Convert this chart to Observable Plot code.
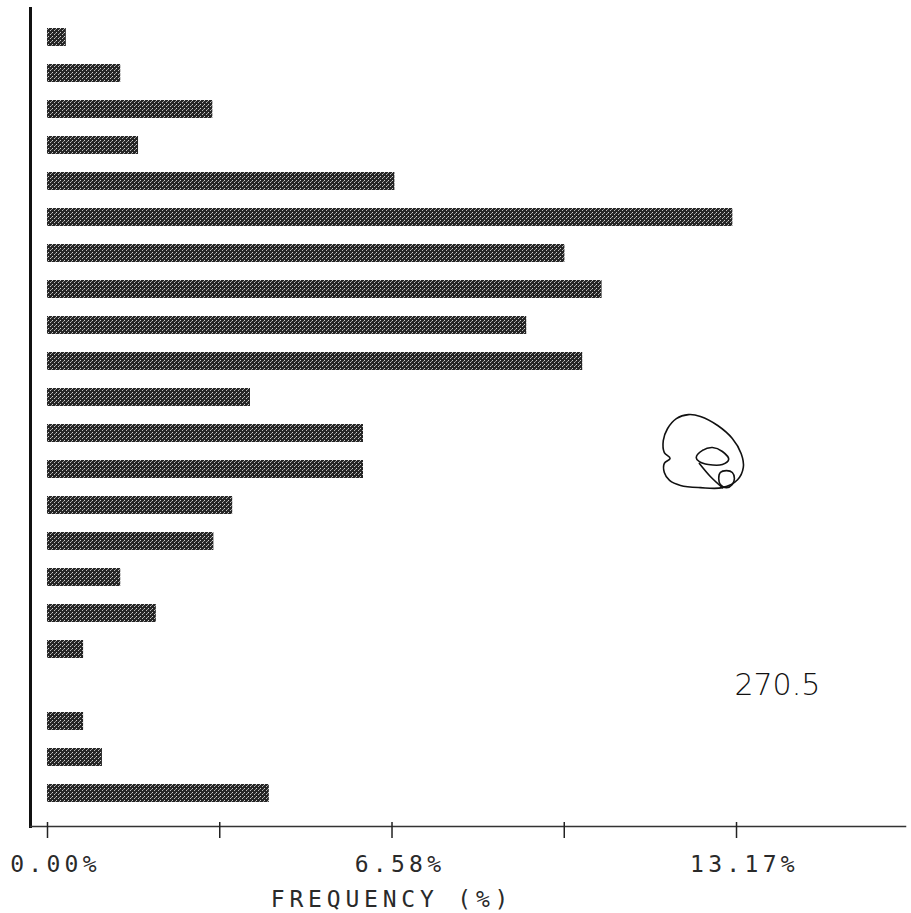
<!DOCTYPE html>
<html><head><meta charset="utf-8">
<script src="https://cdn.jsdelivr.net/npm/d3@7"></script>
<script src="https://cdn.jsdelivr.net/npm/@observablehq/plot@0.6"></script>
<style>
body{margin:0;background:#fff}
svg{display:block}
g[aria-label="x-axis tick label"] text{letter-spacing:4.3px}
</style>
</head><body><div id="chart"></div>
<script>
const rows = ["1","2","3","4","5","6","7","8","9","10","11","12","13","14","15","16","17","18","19","20","21","22"];
const freq = [0.36,1.40,3.16,1.74,6.64,13.10,9.89,10.60,9.16,10.23,3.88,6.04,6.04,3.54,3.18,1.40,2.08,0.69,null,0.69,1.05,4.24];
const tickValues = [0, 3.2925, 6.585, 9.8775, 13.17];
const tickLabels = ["0.00%", "", "6.58%", "", "13.17%"];
const axisLabel = ["FREQUENCY (%)"];
const noteText = ["270.5"];
const noteX = [13.95];
const noteRow = ["19"];

// hand-drawn doodle traced in chart units (x: %, y: row position)
const doodleOuterX = [12.90,13.19,13.30,13.26,13.09,12.81,12.48,12.25,12.02,11.85,11.77,11.79,11.90,11.79,11.79,11.89,12.10,12.48];
const doodleOuterY = [13.51,13.29,12.95,12.57,12.15,11.79,11.54,11.49,11.60,11.88,12.21,12.54,12.70,12.84,13.09,13.31,13.45,13.51];
const doodleInnerX = [12.40,12.52,12.71,12.90,13.02,12.90,12.63,12.46];
const doodleInnerY = [12.68,12.48,12.40,12.51,12.73,12.87,12.87,12.79];
const doodleSmallX = [12.83,12.86,12.98,13.09,13.13,13.09,12.98,12.86];
const doodleSmallY = [13.26,13.09,13.04,13.09,13.26,13.42,13.51,13.42];
const doodleTailX = [12.46,12.67,12.90];
const doodleTailY = [12.84,13.20,13.51];

const data = rows.map((r, i) => ({row: r, freq: freq[i]})).filter(d => d.freq != null);
const labelMap = new Map(tickValues.map((v, i) => [v, tickLabels[i]]));
const pts = (xs, ys) => xs.map((x, i) => ({x, y: ys[i]}));

const dims = {width: 911, height: 913, marginLeft: 30, marginRight: 6, marginTop: 8, marginBottom: 87};
const xScale = {domain: [0, 16.4], range: [47, 905], axis: null};

const chart = Plot.plot({
  ...dims,
  x: xScale,
  y: {domain: rows, range: [17, 812], paddingInner: 0.5, paddingOuter: 0.25, axis: null},
  marks: [
    Plot.barX(data, {x: "freq", y: "row", fill: "url(#dither)"}),
    Plot.frame({anchor: "left", stroke: "#111", strokeWidth: 3}),
    Plot.frame({anchor: "bottom", stroke: "#333", strokeWidth: 1.5}),
    Plot.axisX(tickValues, {anchor: "bottom", tickSize: 16, dy: -4, tickFormat: () => "", stroke: "#222", strokeWidth: 1.5, label: null}),
    Plot.axisX(tickValues, {anchor: "bottom", tickSize: 0, tickPadding: 29, dx: 8, tickFormat: d => labelMap.get(d), label: null,
      fontSize: 23, fontFamily: "DejaVu Sans Mono", fill: "#2a2a2a"}),
    Plot.text(axisLabel, {x: tickValues[2], frameAnchor: "bottom", lineAnchor: "middle", dy: 73, fontSize: 23, fontFamily: "DejaVu Sans Mono", fill: "#2a2a2a"}),
    Plot.text(noteText, {x: (d, i) => noteX[i], y: (d, i) => noteRow[i], fontSize: 30, fontFamily: "DejaVu Sans", fontWeight: 200, fill: "#111"})
  ]
});

const overlay = Plot.plot({
  ...dims,
  x: xScale,
  y: {type: "linear", domain: [1, 22], range: [35, 794], axis: null},
  marks: [
    Plot.line(pts(doodleOuterX, doodleOuterY), {x: "x", y: "y", curve: "catmull-rom-closed", stroke: "#111", strokeWidth: 1.6}),
    Plot.line(pts(doodleInnerX, doodleInnerY), {x: "x", y: "y", curve: "catmull-rom-closed", stroke: "#111", strokeWidth: 1.6}),
    Plot.line(pts(doodleSmallX, doodleSmallY), {x: "x", y: "y", curve: "catmull-rom-closed", stroke: "#111", strokeWidth: 1.6}),
    Plot.line(pts(doodleTailX, doodleTailY), {x: "x", y: "y", curve: "catmull-rom", stroke: "#111", strokeWidth: 1.6})
  ]
});

const svg = d3.select(chart);
const defs = svg.insert("defs", ":first-child");
const p = defs.append("pattern").attr("id", "dither").attr("width", 4).attr("height", 4).attr("patternUnits", "userSpaceOnUse");
p.append("rect").attr("width", 4).attr("height", 4).attr("fill", "#262626");
p.append("rect").attr("x", 0).attr("y", 0).attr("width", 1).attr("height", 1).attr("fill", "#d0d0d0");
p.append("rect").attr("x", 2).attr("y", 2).attr("width", 1).attr("height", 1).attr("fill", "#c0c0c0");
p.append("rect").attr("x", 3).attr("y", 1).attr("width", 1).attr("height", 1).attr("fill", "#909090");

svg.selectAll('g[aria-label="text"] text').filter(function() { return this.textContent === axisLabel[0]; })
  .style("letter-spacing", "4.8px");

Array.from(overlay.querySelectorAll(':scope > g')).forEach(g => chart.appendChild(g));
document.getElementById("chart").appendChild(chart);
</script>
</body></html>
